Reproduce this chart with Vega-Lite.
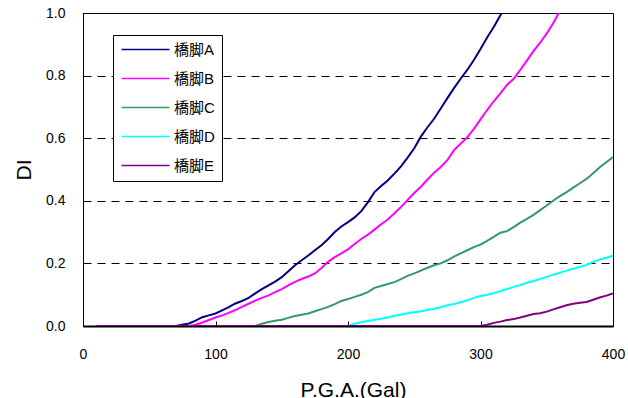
{
  "$schema": "https://vega.github.io/schema/vega-lite/v6.json",
  "width": 530,
  "height": 313,
  "autosize": {"type": "none"},
  "padding": {"left": 83, "top": 13, "right": 15, "bottom": 72},
  "background": "white",
  "config": {
    "font": "Liberation Sans, Arial, sans-serif",
    "view": {"stroke": "#000000", "strokeWidth": 1}
  },
  "data": {
    "values": [
      {"bridge": "橋脚A", "pga": 10, "di": 0},
      {"bridge": "橋脚A", "pga": 70, "di": 0},
      {"bridge": "橋脚A", "pga": 75, "di": 0.004},
      {"bridge": "橋脚A", "pga": 80, "di": 0.008},
      {"bridge": "橋脚A", "pga": 85, "di": 0.017},
      {"bridge": "橋脚A", "pga": 90, "di": 0.028},
      {"bridge": "橋脚A", "pga": 95, "di": 0.034},
      {"bridge": "橋脚A", "pga": 100, "di": 0.04},
      {"bridge": "橋脚A", "pga": 105, "di": 0.05},
      {"bridge": "橋脚A", "pga": 110, "di": 0.06},
      {"bridge": "橋脚A", "pga": 115, "di": 0.072},
      {"bridge": "橋脚A", "pga": 120, "di": 0.08},
      {"bridge": "橋脚A", "pga": 125, "di": 0.09},
      {"bridge": "橋脚A", "pga": 130, "di": 0.104},
      {"bridge": "橋脚A", "pga": 135, "di": 0.118},
      {"bridge": "橋脚A", "pga": 140, "di": 0.13},
      {"bridge": "橋脚A", "pga": 145, "di": 0.142},
      {"bridge": "橋脚A", "pga": 150, "di": 0.156},
      {"bridge": "橋脚A", "pga": 155, "di": 0.175},
      {"bridge": "橋脚A", "pga": 160, "di": 0.194},
      {"bridge": "橋脚A", "pga": 165, "di": 0.21},
      {"bridge": "橋脚A", "pga": 170, "di": 0.225},
      {"bridge": "橋脚A", "pga": 175, "di": 0.242},
      {"bridge": "橋脚A", "pga": 180, "di": 0.258},
      {"bridge": "橋脚A", "pga": 185, "di": 0.278},
      {"bridge": "橋脚A", "pga": 190, "di": 0.3},
      {"bridge": "橋脚A", "pga": 195, "di": 0.318},
      {"bridge": "橋脚A", "pga": 200, "di": 0.332},
      {"bridge": "橋脚A", "pga": 205, "di": 0.347},
      {"bridge": "橋脚A", "pga": 210, "di": 0.367},
      {"bridge": "橋脚A", "pga": 215, "di": 0.395},
      {"bridge": "橋脚A", "pga": 220, "di": 0.428},
      {"bridge": "橋脚A", "pga": 225, "di": 0.447},
      {"bridge": "橋脚A", "pga": 230, "di": 0.465},
      {"bridge": "橋脚A", "pga": 235, "di": 0.487},
      {"bridge": "橋脚A", "pga": 240, "di": 0.51},
      {"bridge": "橋脚A", "pga": 245, "di": 0.538},
      {"bridge": "橋脚A", "pga": 250, "di": 0.568},
      {"bridge": "橋脚A", "pga": 255, "di": 0.605},
      {"bridge": "橋脚A", "pga": 260, "di": 0.635},
      {"bridge": "橋脚A", "pga": 265, "di": 0.662},
      {"bridge": "橋脚A", "pga": 270, "di": 0.695},
      {"bridge": "橋脚A", "pga": 275, "di": 0.728},
      {"bridge": "橋脚A", "pga": 280, "di": 0.76},
      {"bridge": "橋脚A", "pga": 285, "di": 0.79},
      {"bridge": "橋脚A", "pga": 290, "di": 0.818},
      {"bridge": "橋脚A", "pga": 295, "di": 0.85},
      {"bridge": "橋脚A", "pga": 300, "di": 0.885},
      {"bridge": "橋脚A", "pga": 305, "di": 0.922},
      {"bridge": "橋脚A", "pga": 310, "di": 0.955},
      {"bridge": "橋脚A", "pga": 316, "di": 1.0},

      {"bridge": "橋脚B", "pga": 10, "di": 0},
      {"bridge": "橋脚B", "pga": 80, "di": 0},
      {"bridge": "橋脚B", "pga": 85, "di": 0.004},
      {"bridge": "橋脚B", "pga": 90, "di": 0.011},
      {"bridge": "橋脚B", "pga": 95, "di": 0.019},
      {"bridge": "橋脚B", "pga": 100, "di": 0.027},
      {"bridge": "橋脚B", "pga": 105, "di": 0.034},
      {"bridge": "橋脚B", "pga": 110, "di": 0.042},
      {"bridge": "橋脚B", "pga": 115, "di": 0.051},
      {"bridge": "橋脚B", "pga": 120, "di": 0.061},
      {"bridge": "橋脚B", "pga": 125, "di": 0.071},
      {"bridge": "橋脚B", "pga": 130, "di": 0.081},
      {"bridge": "橋脚B", "pga": 135, "di": 0.09},
      {"bridge": "橋脚B", "pga": 140, "di": 0.098},
      {"bridge": "橋脚B", "pga": 145, "di": 0.108},
      {"bridge": "橋脚B", "pga": 150, "di": 0.118},
      {"bridge": "橋脚B", "pga": 155, "di": 0.13},
      {"bridge": "橋脚B", "pga": 160, "di": 0.141},
      {"bridge": "橋脚B", "pga": 165, "di": 0.15},
      {"bridge": "橋脚B", "pga": 170, "di": 0.158},
      {"bridge": "橋脚B", "pga": 175, "di": 0.168},
      {"bridge": "橋脚B", "pga": 180, "di": 0.185},
      {"bridge": "橋脚B", "pga": 185, "di": 0.205},
      {"bridge": "橋脚B", "pga": 190, "di": 0.22},
      {"bridge": "橋脚B", "pga": 195, "di": 0.232},
      {"bridge": "橋脚B", "pga": 200, "di": 0.245},
      {"bridge": "橋脚B", "pga": 205, "di": 0.262},
      {"bridge": "橋脚B", "pga": 210, "di": 0.278},
      {"bridge": "橋脚B", "pga": 215, "di": 0.292},
      {"bridge": "橋脚B", "pga": 220, "di": 0.308},
      {"bridge": "橋脚B", "pga": 225, "di": 0.325},
      {"bridge": "橋脚B", "pga": 230, "di": 0.34},
      {"bridge": "橋脚B", "pga": 235, "di": 0.36},
      {"bridge": "橋脚B", "pga": 240, "di": 0.38},
      {"bridge": "橋脚B", "pga": 245, "di": 0.403},
      {"bridge": "橋脚B", "pga": 250, "di": 0.425},
      {"bridge": "橋脚B", "pga": 255, "di": 0.445},
      {"bridge": "橋脚B", "pga": 260, "di": 0.468},
      {"bridge": "橋脚B", "pga": 265, "di": 0.49},
      {"bridge": "橋脚B", "pga": 270, "di": 0.508},
      {"bridge": "橋脚B", "pga": 275, "di": 0.53},
      {"bridge": "橋脚B", "pga": 280, "di": 0.562},
      {"bridge": "橋脚B", "pga": 285, "di": 0.582},
      {"bridge": "橋脚B", "pga": 290, "di": 0.603},
      {"bridge": "橋脚B", "pga": 295, "di": 0.63},
      {"bridge": "橋脚B", "pga": 300, "di": 0.66},
      {"bridge": "橋脚B", "pga": 305, "di": 0.69},
      {"bridge": "橋脚B", "pga": 310, "di": 0.718},
      {"bridge": "橋脚B", "pga": 315, "di": 0.743},
      {"bridge": "橋脚B", "pga": 320, "di": 0.77},
      {"bridge": "橋脚B", "pga": 325, "di": 0.79},
      {"bridge": "橋脚B", "pga": 330, "di": 0.818},
      {"bridge": "橋脚B", "pga": 335, "di": 0.848},
      {"bridge": "橋脚B", "pga": 340, "di": 0.878},
      {"bridge": "橋脚B", "pga": 345, "di": 0.905},
      {"bridge": "橋脚B", "pga": 350, "di": 0.935},
      {"bridge": "橋脚B", "pga": 355, "di": 0.968},
      {"bridge": "橋脚B", "pga": 359, "di": 1.0},

      {"bridge": "橋脚C", "pga": 10, "di": 0},
      {"bridge": "橋脚C", "pga": 130, "di": 0},
      {"bridge": "橋脚C", "pga": 135, "di": 0.007},
      {"bridge": "橋脚C", "pga": 140, "di": 0.013},
      {"bridge": "橋脚C", "pga": 145, "di": 0.017},
      {"bridge": "橋脚C", "pga": 150, "di": 0.02},
      {"bridge": "橋脚C", "pga": 155, "di": 0.026},
      {"bridge": "橋脚C", "pga": 160, "di": 0.032},
      {"bridge": "橋脚C", "pga": 165, "di": 0.036},
      {"bridge": "橋脚C", "pga": 170, "di": 0.04},
      {"bridge": "橋脚C", "pga": 175, "di": 0.047},
      {"bridge": "橋脚C", "pga": 180, "di": 0.054},
      {"bridge": "橋脚C", "pga": 185, "di": 0.061},
      {"bridge": "橋脚C", "pga": 190, "di": 0.07},
      {"bridge": "橋脚C", "pga": 195, "di": 0.08},
      {"bridge": "橋脚C", "pga": 200, "di": 0.086},
      {"bridge": "橋脚C", "pga": 205, "di": 0.093},
      {"bridge": "橋脚C", "pga": 210, "di": 0.1},
      {"bridge": "橋脚C", "pga": 215, "di": 0.108},
      {"bridge": "橋脚C", "pga": 220, "di": 0.122},
      {"bridge": "橋脚C", "pga": 225, "di": 0.128},
      {"bridge": "橋脚C", "pga": 230, "di": 0.134},
      {"bridge": "橋脚C", "pga": 235, "di": 0.14},
      {"bridge": "橋脚C", "pga": 240, "di": 0.15},
      {"bridge": "橋脚C", "pga": 245, "di": 0.16},
      {"bridge": "橋脚C", "pga": 250, "di": 0.168},
      {"bridge": "橋脚C", "pga": 255, "di": 0.177},
      {"bridge": "橋脚C", "pga": 260, "di": 0.186},
      {"bridge": "橋脚C", "pga": 265, "di": 0.194},
      {"bridge": "橋脚C", "pga": 270, "di": 0.2},
      {"bridge": "橋脚C", "pga": 275, "di": 0.21},
      {"bridge": "橋脚C", "pga": 280, "di": 0.222},
      {"bridge": "橋脚C", "pga": 285, "di": 0.232},
      {"bridge": "橋脚C", "pga": 290, "di": 0.242},
      {"bridge": "橋脚C", "pga": 295, "di": 0.252},
      {"bridge": "橋脚C", "pga": 300, "di": 0.26},
      {"bridge": "橋脚C", "pga": 305, "di": 0.272},
      {"bridge": "橋脚C", "pga": 310, "di": 0.285},
      {"bridge": "橋脚C", "pga": 315, "di": 0.298},
      {"bridge": "橋脚C", "pga": 320, "di": 0.303},
      {"bridge": "橋脚C", "pga": 325, "di": 0.316},
      {"bridge": "橋脚C", "pga": 330, "di": 0.33},
      {"bridge": "橋脚C", "pga": 335, "di": 0.342},
      {"bridge": "橋脚C", "pga": 340, "di": 0.355},
      {"bridge": "橋脚C", "pga": 345, "di": 0.37},
      {"bridge": "橋脚C", "pga": 350, "di": 0.385},
      {"bridge": "橋脚C", "pga": 355, "di": 0.401},
      {"bridge": "橋脚C", "pga": 360, "di": 0.415},
      {"bridge": "橋脚C", "pga": 365, "di": 0.428},
      {"bridge": "橋脚C", "pga": 370, "di": 0.442},
      {"bridge": "橋脚C", "pga": 375, "di": 0.456},
      {"bridge": "橋脚C", "pga": 380, "di": 0.47},
      {"bridge": "橋脚C", "pga": 385, "di": 0.488},
      {"bridge": "橋脚C", "pga": 390, "di": 0.507},
      {"bridge": "橋脚C", "pga": 395, "di": 0.523},
      {"bridge": "橋脚C", "pga": 400, "di": 0.54},

      {"bridge": "橋脚D", "pga": 10, "di": 0},
      {"bridge": "橋脚D", "pga": 200, "di": 0},
      {"bridge": "橋脚D", "pga": 205, "di": 0.007},
      {"bridge": "橋脚D", "pga": 210, "di": 0.012},
      {"bridge": "橋脚D", "pga": 215, "di": 0.016},
      {"bridge": "橋脚D", "pga": 220, "di": 0.02},
      {"bridge": "橋脚D", "pga": 225, "di": 0.023},
      {"bridge": "橋脚D", "pga": 230, "di": 0.027},
      {"bridge": "橋脚D", "pga": 235, "di": 0.033},
      {"bridge": "橋脚D", "pga": 240, "di": 0.037},
      {"bridge": "橋脚D", "pga": 245, "di": 0.041},
      {"bridge": "橋脚D", "pga": 250, "di": 0.044},
      {"bridge": "橋脚D", "pga": 255, "di": 0.047},
      {"bridge": "橋脚D", "pga": 260, "di": 0.051},
      {"bridge": "橋脚D", "pga": 265, "di": 0.055},
      {"bridge": "橋脚D", "pga": 270, "di": 0.06},
      {"bridge": "橋脚D", "pga": 275, "di": 0.066},
      {"bridge": "橋脚D", "pga": 280, "di": 0.07},
      {"bridge": "橋脚D", "pga": 285, "di": 0.076},
      {"bridge": "橋脚D", "pga": 290, "di": 0.082},
      {"bridge": "橋脚D", "pga": 295, "di": 0.09},
      {"bridge": "橋脚D", "pga": 300, "di": 0.096},
      {"bridge": "橋脚D", "pga": 305, "di": 0.1},
      {"bridge": "橋脚D", "pga": 310, "di": 0.105},
      {"bridge": "橋脚D", "pga": 315, "di": 0.111},
      {"bridge": "橋脚D", "pga": 320, "di": 0.118},
      {"bridge": "橋脚D", "pga": 325, "di": 0.125},
      {"bridge": "橋脚D", "pga": 330, "di": 0.131},
      {"bridge": "橋脚D", "pga": 335, "di": 0.138},
      {"bridge": "橋脚D", "pga": 340, "di": 0.144},
      {"bridge": "橋脚D", "pga": 345, "di": 0.15},
      {"bridge": "橋脚D", "pga": 350, "di": 0.157},
      {"bridge": "橋脚D", "pga": 355, "di": 0.164},
      {"bridge": "橋脚D", "pga": 360, "di": 0.17},
      {"bridge": "橋脚D", "pga": 365, "di": 0.177},
      {"bridge": "橋脚D", "pga": 370, "di": 0.183},
      {"bridge": "橋脚D", "pga": 375, "di": 0.189},
      {"bridge": "橋脚D", "pga": 380, "di": 0.195},
      {"bridge": "橋脚D", "pga": 385, "di": 0.205},
      {"bridge": "橋脚D", "pga": 390, "di": 0.212},
      {"bridge": "橋脚D", "pga": 395, "di": 0.218},
      {"bridge": "橋脚D", "pga": 400, "di": 0.225},

      {"bridge": "橋脚E", "pga": 10, "di": 0},
      {"bridge": "橋脚E", "pga": 300, "di": 0},
      {"bridge": "橋脚E", "pga": 305, "di": 0.004},
      {"bridge": "橋脚E", "pga": 310, "di": 0.01},
      {"bridge": "橋脚E", "pga": 315, "di": 0.014},
      {"bridge": "橋脚E", "pga": 320, "di": 0.019},
      {"bridge": "橋脚E", "pga": 325, "di": 0.022},
      {"bridge": "橋脚E", "pga": 330, "di": 0.027},
      {"bridge": "橋脚E", "pga": 335, "di": 0.033},
      {"bridge": "橋脚E", "pga": 340, "di": 0.038},
      {"bridge": "橋脚E", "pga": 345, "di": 0.041},
      {"bridge": "橋脚E", "pga": 350, "di": 0.046},
      {"bridge": "橋脚E", "pga": 355, "di": 0.053},
      {"bridge": "橋脚E", "pga": 360, "di": 0.06},
      {"bridge": "橋脚E", "pga": 365, "di": 0.066},
      {"bridge": "橋脚E", "pga": 370, "di": 0.071},
      {"bridge": "橋脚E", "pga": 375, "di": 0.074},
      {"bridge": "橋脚E", "pga": 380, "di": 0.077},
      {"bridge": "橋脚E", "pga": 385, "di": 0.084},
      {"bridge": "橋脚E", "pga": 390, "di": 0.091},
      {"bridge": "橋脚E", "pga": 395, "di": 0.097},
      {"bridge": "橋脚E", "pga": 400, "di": 0.104}
    ]
  },
  "mark": {"type": "line", "strokeWidth": 2, "clip": true},
  "encoding": {
    "x": {
      "field": "pga",
      "type": "quantitative",
      "scale": {"domain": [0, 400], "nice": false, "zero": false},
      "axis": {
        "values": [0, 100, 200, 300, 400],
        "title": "P.G.A.(Gal)",
        "titleFontSize": 21,
        "titleFontWeight": "normal",
        "titleColor": "#000000",
        "titlePadding": 18,
        "titleX": 270,
        "labelFontSize": 14,
        "labelColor": "#000000",
        "labelPadding": 26,
        "labelFlush": false,
        "domainColor": "#000000",
        "domainWidth": 2,
        "tickColor": "#000000",
        "tickSize": -5,
        "grid": false
      }
    },
    "y": {
      "field": "di",
      "type": "quantitative",
      "scale": {"domain": [0, 1], "nice": false},
      "axis": {
        "values": [0, 0.2, 0.4, 0.6, 0.8, 1.0],
        "format": ".1f",
        "title": "DI",
        "titleFontSize": 21,
        "titleFontWeight": "normal",
        "titleColor": "#000000",
        "titlePadding": 11,
        "labelFontSize": 14,
        "labelColor": "#000000",
        "labelPadding": 23,
        "labelFlush": false,
        "domainColor": "#000000",
        "domainWidth": 1,
        "tickColor": "#000000",
        "tickSize": -5,
        "grid": true,
        "gridColor": "#000000",
        "gridDash": [8, 6],
        "gridWidth": 1
      }
    },
    "color": {
      "field": "bridge",
      "type": "nominal",
      "scale": {
        "domain": ["橋脚A", "橋脚B", "橋脚C", "橋脚D", "橋脚E"],
        "range": ["#000080", "#FF00FF", "#339966", "#00FFFF", "#800080"]
      },
      "legend": {
        "title": null,
        "orient": "none",
        "legendX": 30,
        "legendY": 22,
        "direction": "vertical",
        "strokeColor": "#000000",
        "fillColor": "#ffffff",
        "padding": 7,
        "rowPadding": 13,
        "symbolType": "M-1,0H7",
        "symbolSize": 144,
        "symbolStrokeWidth": 1.5,
        "labelFont": "Liberation Sans, Noto Sans CJK JP, sans-serif",
        "labelFontSize": 15,
        "labelColor": "#000000",
        "labelOffset": 39,
        "cornerRadius": 0
      }
    }
  }
}
